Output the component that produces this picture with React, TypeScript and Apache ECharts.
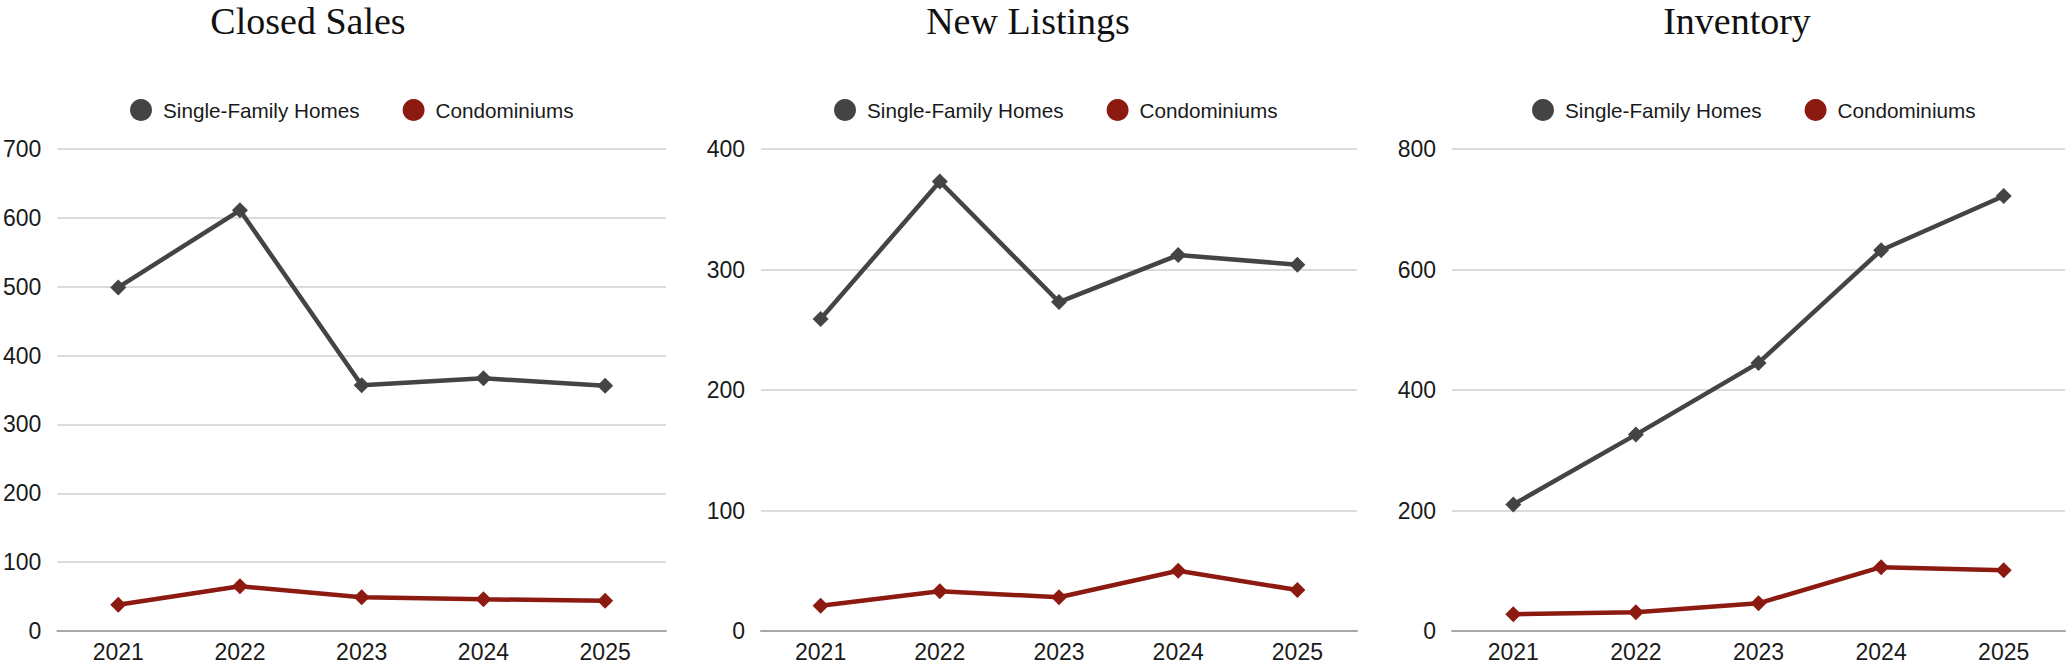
import React, { useEffect, useRef } from "react";
import * as echarts from "echarts";

const years = ["2021", "2022", "2023", "2024", "2025"];
const seriesNames = ["Single-Family Homes", "Condominiums"];

const closedSalesSFH = [499, 611, 357, 367, 356];
const closedSalesCondo = [38, 65, 49, 46, 44];
const newListingsSFH = [259, 373, 273, 312, 304];
const newListingsCondo = [21, 33, 28, 50, 34];
const inventorySFH = [210, 326, 445, 632, 722];
const inventoryCondo = [28, 31, 46, 106, 101];

const chartTitles = ["Closed Sales", "New Listings", "Inventory"];
const yMax = [700, 400, 800];
const yStep = [100, 100, 200];

const SFH_COLOR = "#444444";
const CONDO_COLOR = "#8c1a11";

export default function App() {
  const ref = useRef<HTMLDivElement>(null);

  useEffect(() => {
    if (!ref.current) return;
    const chart = echarts.init(ref.current, undefined, { renderer: "svg" });

    const grids = [
      { left: 52, width: 614 },
      { left: 761, width: 596 },
      { left: 1452, width: 613 },
    ];
    const titleX = [308, 1028, 1737];
    const legendX = [130, 834, 1532];
    const data = [
      [closedSalesSFH, closedSalesCondo],
      [newListingsSFH, newListingsCondo],
      [inventorySFH, inventoryCondo],
    ];

    const axisFont = "'Liberation Sans', Arial, sans-serif";

    const option: any = {
      animation: false,
      backgroundColor: "#ffffff",
      graphic: chartTitles.map((t, i) => ({
        type: "text",
        x: titleX[i],
        y: 21,
        style: {
          text: t,
          fontSize: 38,
          fontFamily: "'Liberation Serif', 'Times New Roman', serif",
          fill: "#111111",
          align: "center",
          verticalAlign: "middle",
          textAlign: "center",
          textVerticalAlign: "middle",
        },
      })),
      legend: grids.map((g, i) => ({
        left: legendX[i],
        top: 99,
        padding: 0,
        icon: "circle",
        itemWidth: 22,
        itemHeight: 22,
        itemGap: 43,
        data: seriesNames,
        textStyle: {
          fontSize: 20.7,
          fontFamily: axisFont,
          color: "#1a1a1a",
          padding: [0, 0, 0, 6],
        },
      })),
      grid: grids.map((g) => ({
        left: g.left,
        width: g.width,
        top: 149,
        bottom: 34,
        containLabel: false,
      })),
      xAxis: grids.map((g, i) => ({
        type: "category",
        gridIndex: i,
        data: years,
        boundaryGap: true,
        axisTick: { show: false },
        axisLine: { show: true, lineStyle: { color: "#a8a8a8", width: 2 } },
        axisLabel: {
          fontSize: 23,
          fontFamily: axisFont,
          color: "#1a1a1a",
          margin: 9,
        },
      })),
      yAxis: grids.map((g, i) => ({
        type: "value",
        gridIndex: i,
        min: 0,
        max: yMax[i],
        interval: yStep[i],
        axisLine: { show: false },
        axisTick: { show: false },
        splitLine: { show: true, lineStyle: { color: "#cfcfcf", width: 1.5 } },
        axisLabel: {
          fontSize: 23,
          fontFamily: axisFont,
          color: "#1a1a1a",
          margin: 16,
        },
      })),
      series: data.flatMap((pair, i) => [
        {
          name: seriesNames[0],
          type: "line",
          xAxisIndex: i,
          yAxisIndex: i,
          data: pair[0],
          symbol: "diamond",
          symbolSize: 16,
          color: SFH_COLOR,
          lineStyle: { width: 4.5, color: SFH_COLOR },
          itemStyle: { color: SFH_COLOR },
        },
        {
          name: seriesNames[1],
          type: "line",
          xAxisIndex: i,
          yAxisIndex: i,
          data: pair[1],
          symbol: "diamond",
          symbolSize: 16,
          color: CONDO_COLOR,
          lineStyle: { width: 4.5, color: CONDO_COLOR },
          itemStyle: { color: CONDO_COLOR },
        },
      ]),
    };

    chart.setOption(option);
    return () => chart.dispose();
  }, []);

  return (
    <div
      ref={ref}
      style={{ position: "fixed", left: 0, top: 0, width: 2069, height: 665 }}
    />
  );
}
